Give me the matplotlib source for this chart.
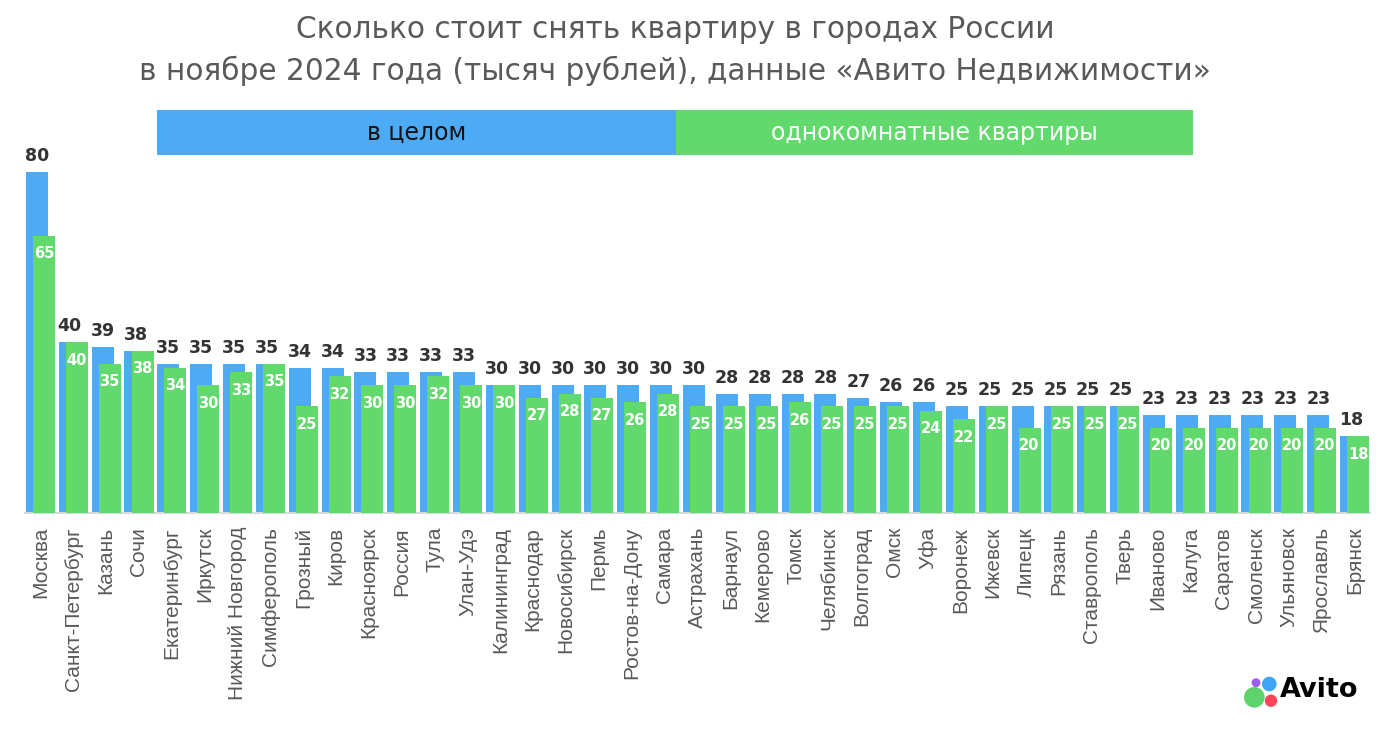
import matplotlib
matplotlib.use('Agg')
import matplotlib.pyplot as plt
import numpy as np
from matplotlib.patches import Circle, Rectangle

cities = ['Москва', 'Санкт-Петербург', 'Казань', 'Сочи', 'Екатеринбург', 'Иркутск',
          'Нижний Новгород', 'Симферополь', 'Грозный', 'Киров', 'Красноярск', 'Россия',
          'Тула', 'Улан-Удэ', 'Калининград', 'Краснодар', 'Новосибирск', 'Пермь',
          'Ростов-на-Дону', 'Самара', 'Астрахань', 'Барнаул', 'Кемерово', 'Томск',
          'Челябинск', 'Волгоград', 'Омск', 'Уфа', 'Воронеж', 'Ижевск', 'Липецк',
          'Рязань', 'Ставрополь', 'Тверь', 'Иваново', 'Калуга', 'Саратов', 'Смоленск',
          'Ульяновск', 'Ярославль', 'Брянск']
total = [80, 40, 39, 38, 35, 35, 35, 35, 34, 34, 33, 33, 33, 33, 30, 30, 30, 30, 30, 30,
         30, 28, 28, 28, 28, 27, 26, 26, 25, 25, 25, 25, 25, 25, 23, 23, 23, 23, 23, 23, 18]
one_room = [65, 40, 35, 38, 34, 30, 33, 35, 25, 32, 30, 30, 32, 30, 30, 27, 28, 27, 26, 28,
            25, 25, 25, 26, 25, 25, 25, 24, 22, 25, 20, 25, 25, 25, 20, 20, 20, 20, 20, 20, 18]

blue = '#4dabf5'
green = '#62d96c'
gray = '#595959'
W, H = 1400, 744

fig = plt.figure(figsize=(14, 7.44), dpi=100)
ax = fig.add_axes([25 / W, (H - 513) / H, 1345 / W, 384 / H])

x = np.arange(len(cities))
ax.bar(x - 0.107, total, width=0.67, color=blue, zorder=2)
ax.bar(x + 0.107, one_room, width=0.67, color=green, zorder=3)
ax.set_xlim(-0.47, len(cities) - 1 + 0.47)
ax.set_ylim(0, 90)

for s in ['top', 'right', 'left']:
    ax.spines[s].set_visible(False)
ax.spines['bottom'].set_color('#d9d9d9')
ax.spines['bottom'].set_linewidth(1.5)
ax.set_yticks([])
ax.set_xticks(x)
ax.set_xticklabels(cities, rotation=90, fontsize=15, color=gray, family='Liberation Sans')
ax.tick_params(axis='x', length=0, pad=10)

for i in x:
    ax.annotate(str(total[i]), (i - 0.107, total[i]), xytext=(0, 5), textcoords='offset points',
                ha='center', va='bottom', fontsize=12.5, fontweight='bold', color='#333333')
    ax.annotate(str(one_room[i]), (i + 0.107, one_room[i]), xytext=(0, -13), textcoords='offset points',
                ha='center', va='center', fontsize=10.5, fontweight='bold', color='white', zorder=4)

# title
fig.text(675 / W, 1 - 38 / H, 'Сколько стоит снять квартиру в городах России',
         ha='center', va='baseline', fontsize=21.3, color=gray)
fig.text(675 / W, 1 - 80 / H, 'в ноябре 2024 года (тысяч рублей), данные «Авито Недвижимости»',
         ha='center', va='baseline', fontsize=21.3, color=gray)

# legend bar
fig.add_artist(Rectangle((157 / W, 1 - 155 / H), (676 - 157) / W, 45 / H,
                         transform=fig.transFigure, color=blue, lw=0))
fig.add_artist(Rectangle((676 / W, 1 - 155 / H), (1193 - 676) / W, 45 / H,
                         transform=fig.transFigure, color=green, lw=0))
fig.text(416.5 / W, 1 - 133 / H, 'в целом', ha='center', va='center', fontsize=17, color='#111111')
fig.text(934.5 / W, 1 - 133 / H, 'однокомнатные квартиры', ha='center', va='center',
         fontsize=17, color='white')

# avito logo
lax = fig.add_axes([1238 / W, (H - 712) / H, 132 / W, 44 / H])
lax.set_xlim(1238, 1370)
lax.set_ylim(712, 668)
lax.axis('off')
lax.add_patch(Circle((1254.3, 697.3), 10.3, color='#5ed36b', lw=0, clip_on=False))
lax.add_patch(Circle((1269.3, 684), 7.3, color='#3da5f5', lw=0, clip_on=False))
lax.add_patch(Circle((1271, 700.7), 6.2, color='#ff4558', lw=0, clip_on=False))
lax.add_patch(Circle((1256, 682.7), 4.4, color='#9b5cf0', lw=0, clip_on=False))
lax.text(1280, 697.5, 'Avito', ha='left', va='baseline', fontsize=19.5, fontweight='bold', color='black')

fig.savefig('out.png', dpi=100)
